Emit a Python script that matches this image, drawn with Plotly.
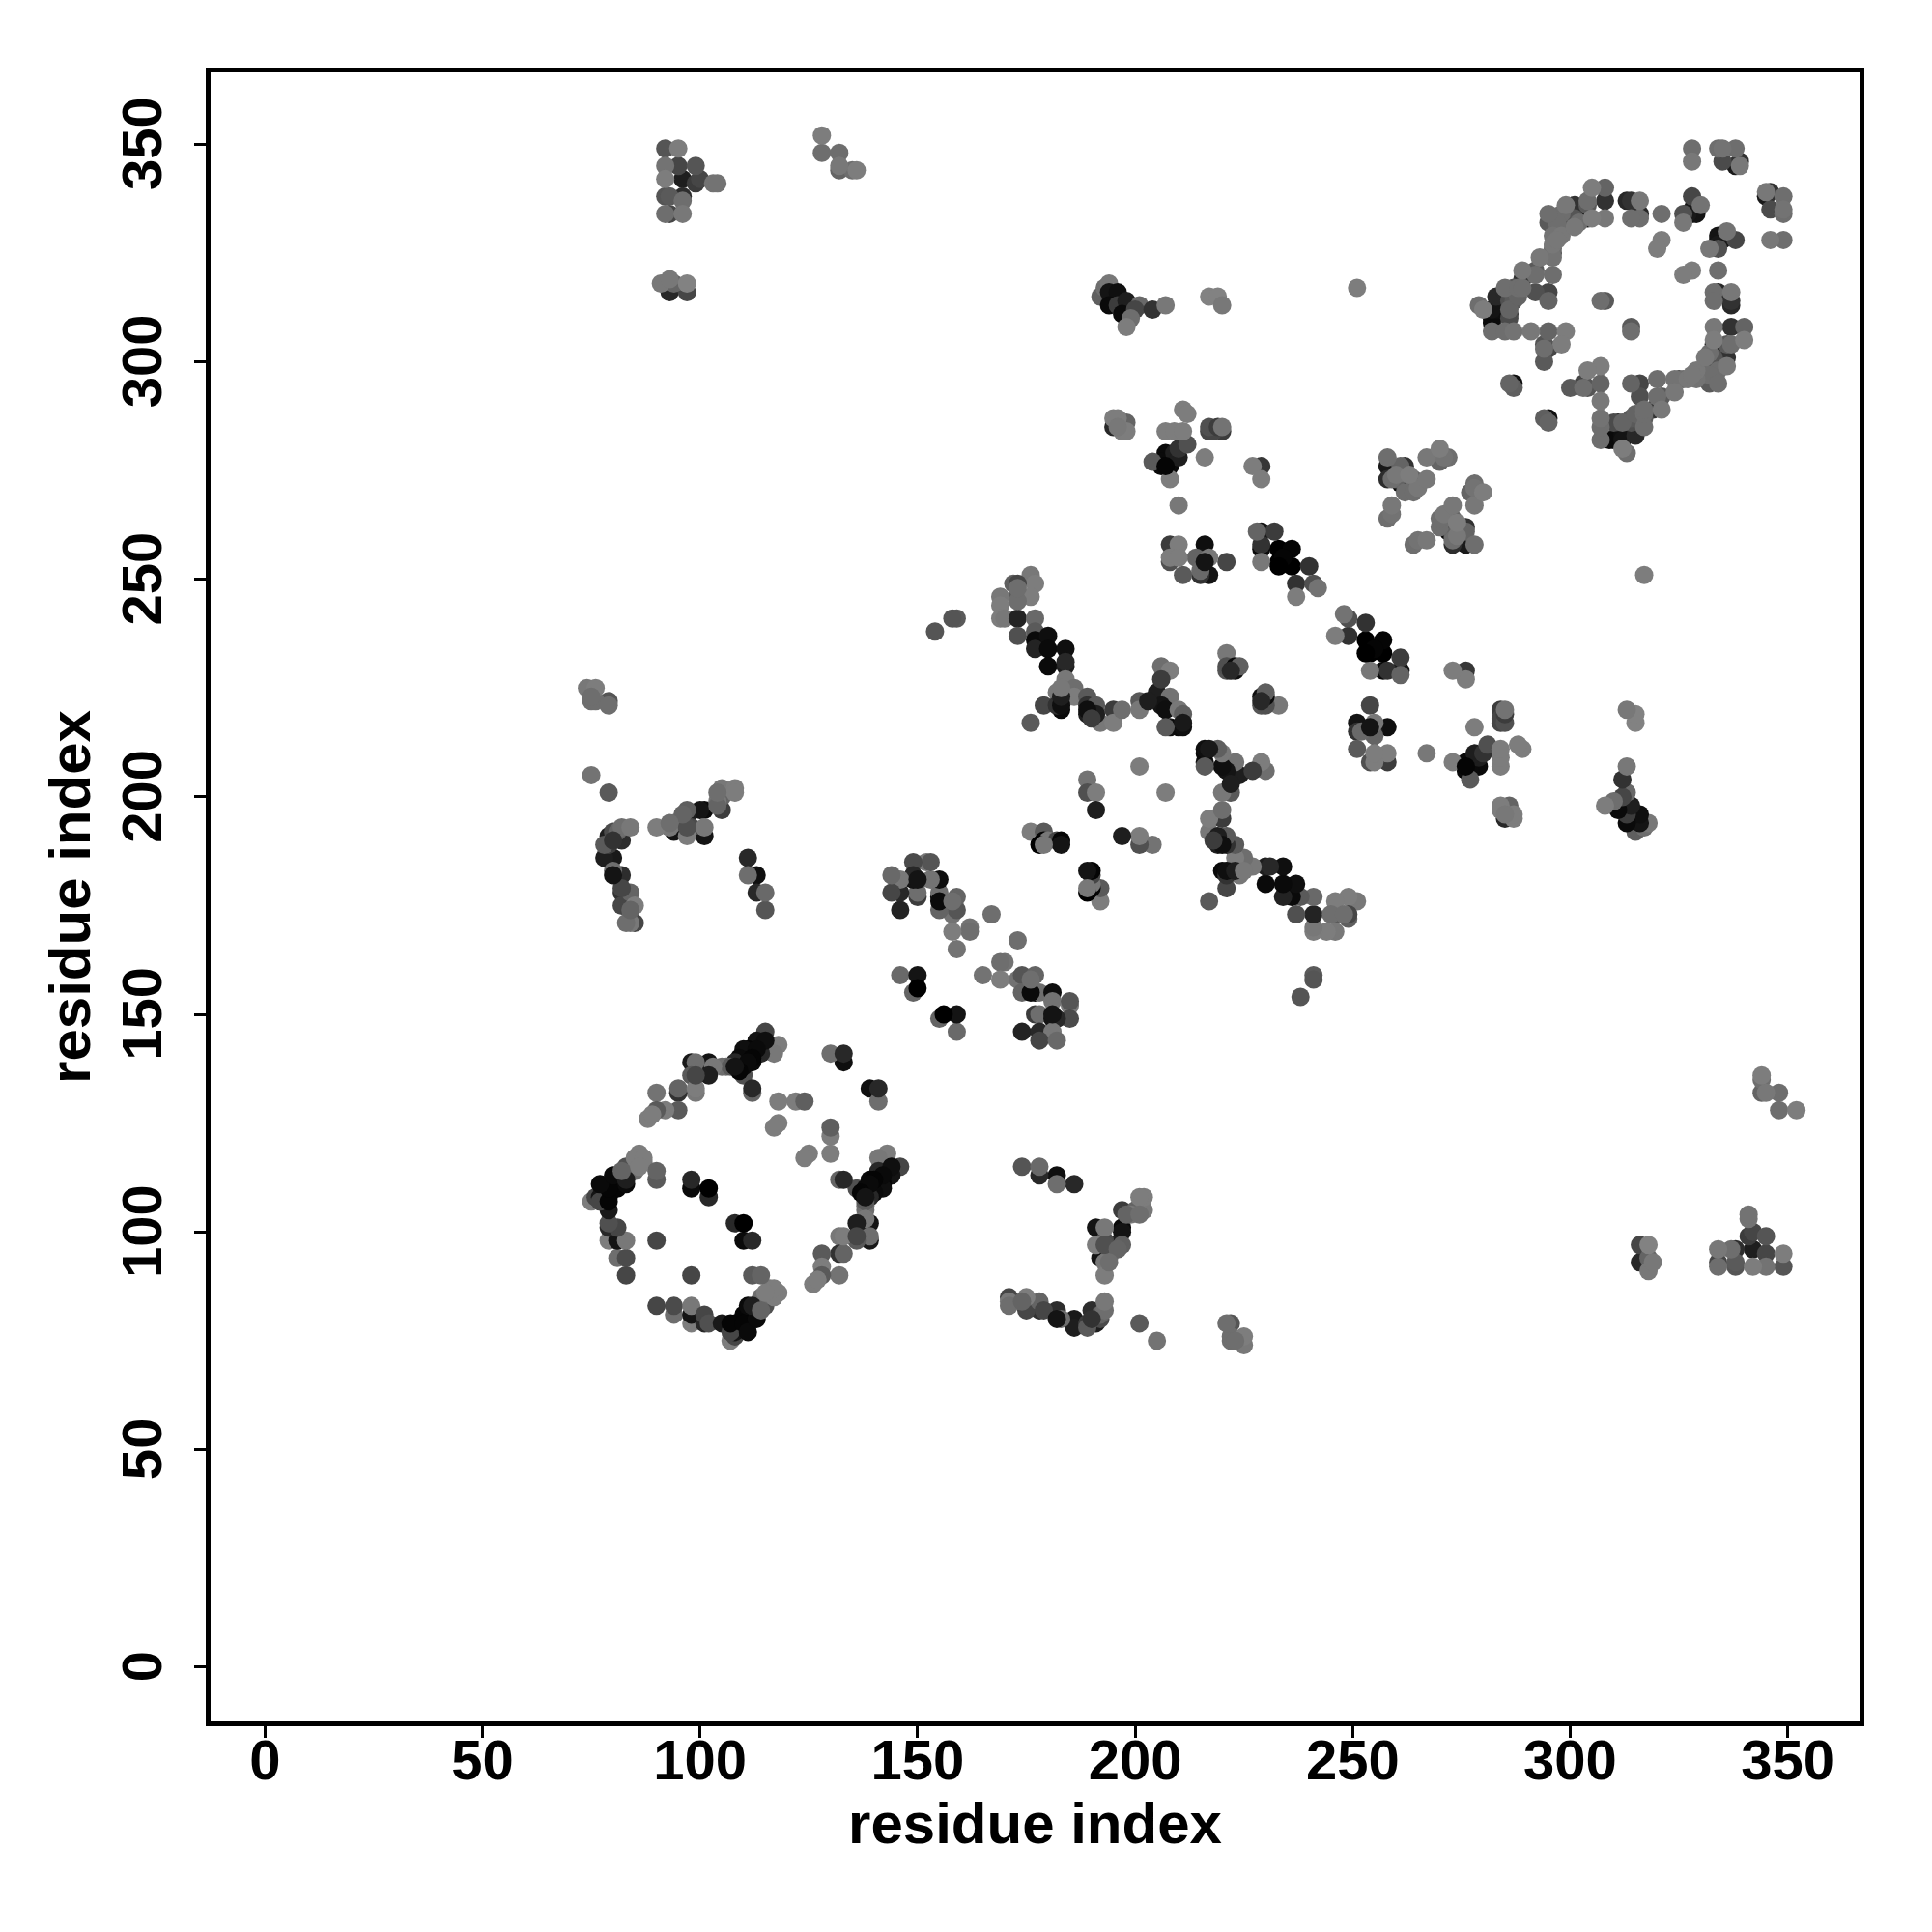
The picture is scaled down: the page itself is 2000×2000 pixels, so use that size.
import plotly.graph_objects as go

# contacts: (residue i, residue j, grey level); the map is symmetric, so each pair is drawn on both sides
top_left = [(92,349,85),(95,349,125),(92,345,115),(95,345,70),(99,345,85),(92,342,125),(96,342,30),(99,341,60),(100,342,70),
 (103,341,115),(104,341,115),(92,338,85),(93,338,90),(96,337,110),(96,338,45),(92,334,110),(93,334,70),(96,334,120),
 (128,352,125),(128,348,110),(132,348,110),(132,344,100),(132,345,120),(135,344,110),(136,344,125),
 (93,316,40),(97,316,70),(91,318,120),(93,319,120),(93,316,120),(94,318,100),(97,318,130)]
b_cluster = [(192,315,95),(193,317,110),(194,318,120),(194,316,20),(196,316,15),(194,313,10),(196,313,60),(198,314,30),(197,311,10),
 (201,313,105),(200,312,70),(199,310,110),(198,308,125),(204,312,50),(207,313,120),(217,315,130),(219,315,130),(220,313,120),(251,317,125)]
d_cluster = [(211,289,125),(212,288,125),(195,285,40),(195,287,125),(196,287,125),(198,286,100),(197,284,125),(198,284,125),(207,284,125),(209,284,125),(211,284,125),
 (212,281,80),(210,280,50),(209,279,30),(207,279,10),(210,278,30),(204,277,90),(206,277,10),(208,276,10),(206,276,10),(208,273,125),(216,278,125),
 (217,284,70),(218,284,70),(220,284,60),(220,284,125),(227,276,125),(229,273,125),(229,276,55),(210,267,120),
 (208,258,60),(210,258,125),(208,254,80),(208,255,125),(210,255,125),(211,251,90),(216,258,15),(214,255,100),(215,255,20),(217,255,120),(221,254,70),(215,251,50),(217,251,20)]
e_cluster = [(228,261,100),(229,261,20),(232,261,60),(229,258,50),(229,257,10),(229,254,120),(233,257,0),(236,257,5),(233,254,0),(236,253,0),(234,255,5),
 (240,253,50),(237,249,50),(241,249,80),(242,248,115),
 (258,278,120),(258,276,25),(258,273,45),(259,273,110),(261,276,100),(262,276,55),(261,272,10),(267,278,125),(270,280,125),(272,278,110),(271,278,115),(270,277,115),
 (267,273,125),(265,271,120),(264,273,100),(263,274,125),(262,270,110),(264,270,110),(259,267,120),(258,264,115),(259,265,115),(264,258,110),(265,259,125),(267,259,120),
 (273,267,120),(278,272,110),(277,270,100),(280,270,125),(278,267,120),(270,264,110),(270,262,110),(273,264,100),(274,263,125),(276,262,50),(272,261,10),(273,260,100),(274,260,120),
 (273,258,60),(276,258,30),(278,258,110)]
diag_band = [(248,242,125),(249,241,80),(246,237,125),(249,237,60),(253,240,70),(253,236,0),(257,236,15),(253,233,0),(257,233,5),(261,232,60),(254,229,100),(257,229,40),(261,228,80),(261,229,20),
 (273,229,125),(276,227,125),(276,229,55),(254,221,75),(251,217,15),(252,215,105),(254,216,20),(255,217,120),(258,216,10),(255,214,70),(251,211,85),(255,210,125),(258,208,70),(258,210,120),(254,208,120),(255,208,125),
 (267,210,110),(273,208,120),(278,216,125),(285,217,80),(285,219,60),(285,220,115),(281,212,75),(284,211,120),(288,212,125),(289,211,125),(280,210,30),(278,210,10),(276,207,5),(279,207,5),(277,204,95),(277,206,10),(284,207,110),
 (285,195,40),(284,198,125),(286,198,95),(285,196,120),(287,195,125),
 (221,233,120),(221,229,85),(221,230,80),(223,229,15),(223,230,10),(224,230,95),(229,221,110),(229,222,40),(230,221,70),(230,224,90),(233,221,125)]
g_cluster = [(176,251,120),(177,249,125),(172,249,95),(173,249,70),(169,246,120),(173,246,90),(176,246,125),(169,244,125),(169,241,125),(170,241,120),(173,241,35),(177,241,105),(173,237,80),(177,238,90),(177,236,10),(177,234,35),
 (180,237,15),(180,234,10),(184,234,15),(180,230,10),(184,230,30),(184,231,40),(184,227,120),(186,225,110),(182,224,120),(186,223,125),(183,220,10),(183,222,110),(179,221,70),(182,221,50),(176,217,90),
 (189,223,90),(189,221,50),(189,219,30),(191,221,90),(192,217,120),(195,220,60),(195,217,125),(197,220,110),(201,222,90),(201,220,120),(205,224,30),(206,230,110),(208,229,125),(206,227,60),(208,223,115),(206,221,20),
 (207,220,15),(210,220,120),(211,219,95),(208,216,15),(210,216,10),(211,216,15),(154,238,85),(159,241,90)]
mid_cluster = [(216,210,20),(217,211,25),(219,211,120),(220,210,115),(216,207,90),(223,208,120),(220,207,10),(221,206,15),(224,205,10),(227,206,50),(229,208,125),(230,206,100),(222,203,30),(220,201,125),(222,201,80),
 (220,197,125),(220,195,50),(217,195,120),(217,192,120),(219,191,30),(220,189,15),(223,189,80),(221,191,70),(218,190,60),(225,186,115),(223,186,125),(227,184,120),(221,183,15),(223,183,30),(225,183,120),(221,179,60),(217,176,90),
 (230,184,45),(234,184,10),(230,180,5),(234,180,10),(237,180,20),(234,177,30),(236,177,20),(238,177,80),(241,177,100),(237,173,80),(241,173,30),(246,176,125),(249,177,125),(251,176,125),(245,173,110),(248,173,110),(249,173,60),
 (241,169,115),(244,169,125),(246,169,120),(241,158,85),(238,154,85),
 (201,207,125),(207,201,115),(189,204,115),(189,201,80),(191,201,125),(191,197,30),(176,192,125),(179,192,90),(179,190,5),(180,190,120),(182,190,70),(183,190,5),(183,189,20),(197,191,30),(201,191,120),(201,189,85),(204,189,120),
 (189,183,10),(190,183,5),(190,182,30),(189,178,0),(189,179,120),(192,179,85),(192,176,125)]
low_diag = [(167,173,110),(162,170,115),(162,169,110),(173,167,115),(170,162,115),(169,162,115),(165,159,115),(169,158,125),(173,158,115),(174,159,85),(177,159,100),(174,155,100),(177,155,10),(178,155,110),(181,155,15),
 (181,153,115),(185,152,120),(185,153,85),(185,149,75),(177,150,60),(178,150,110),(181,149,20),(182,149,40),(174,146,35),(178,146,40),(181,146,120),(178,144,70),(182,144,105),
 (149,185,85),(152,185,110),(153,185,75),(144,182,110),(146,181,115),(149,181,50),(150,181,20),(155,181,15),(144,178,85),(146,178,40),(150,177,70),(150,178,100),(146,174,50),(155,176,10),(155,178,110),(155,174,110),
 (159,177,90),(158,176,110),(159,174,80),(158,173,110),(158,169,125),(159,165,120),(146,159,105),(150,159,20),(149,155,100),(150,156,0),(155,149,100),(156,150,5),(159,150,15),(159,146,110)]
f_cluster = [(74,225,120),(76,225,125),(75,222,110),(76,222,110),(79,221,110),(79,222,85),(75,205,115),(79,201,90),(84,193,120),(82,193,110),(81,192,100),(80,192,75),(79,191,30),(82,190,45),(78,189,90),(79,189,60),(78,186,30),(80,186,25),
 (80,183,110),(82,182,45),(82,178,50),(84,178,100),(82,175,70),(85,175,125),(84,171,120),(85,171,70),(90,193,125),(93,193,120),(94,192,20),(94,194,115),(97,195,30),(97,197,95),(98,193,75),(97,191,125),(100,197,20),(101,197,10),
 (101,191,20),(101,193,120),(105,197,60),(104,199,120),(105,200,100),(105,202,120),(108,202,125),(111,186,40),(111,182,110),(113,182,15),(113,178,40),(115,178,105),(115,174,85)]
ring_low = [(115,146,70),(113,144,20),(118,143,125),(117,141,120),(111,142,5),(114,141,40),(110,142,15),(109,140,10),(112,139,10),(110,136,80),(110,138,10),(108,139,40),(112,132,100),(112,133,40),
 (105,138,110),(106,138,110),(107,138,90),(102,139,20),(103,138,120),(102,136,30),(98,139,25),(99,139,110),(98,136,90),(99,132,120),(95,132,50),(95,133,100),(90,132,115),(95,128,90),(92,128,125),(90,128,90),(88,126,125),(89,127,125),
 (118,130,125),(122,130,125),(124,130,95),(118,125,125),(117,124,125),(133,139,15),(130,141,110),(133,141,40),(141,130,100),(139,133,15),(141,133,40),(130,122,125),(130,124,85),(130,118,125),(124,117,125),(125,118,125),
 (141,117,115),(143,118,125),(146,115,70),(144,115,15),(142,113,10),(140,112,5),(139,111,10),(137,109,5),(140,109,10),(138,106,100),(138,108,20),(132,112,100),(133,112,40),(136,110,85),(139,102,25),(136,102,40),
 (139,98,20),(132,99,125),(133,99,125),(136,99,70),(132,95,40),(133,95,110),(128,95,85),(128,92,120),(128,90,85),(132,90,120),(126,88,120),
 (90,83,70),(94,81,110),(94,83,75),(98,79,125),(98,81,20),(98,83,120),(101,79,40),(101,81,70),(102,79,80),(105,79,25),(107,75,125),(108,76,70),(108,77,20),(108,79,5),(111,79,10),(110,81,5),(113,81,5),(111,83,10),(115,83,80),(114,85,110),
 (116,87,120),(117,86,125),(118,86,125),(112,90,90),(114,90,100),(90,98,70),(98,90,70),(83,90,70),(81,94,110),(83,94,70),(79,98,115),(81,98,30),(83,98,125),(79,102,90),(81,101,60),(79,105,20),
 (75,107,120),(77,107,70),(79,107,5),(79,110,5),(77,111,10),(80,113,10),(81,110,10),(83,112,30),(83,115,80),(82,114,100),(85,117,125),(86,118,125),(87,117,125),(86,115,125),(90,112,100),(90,114,100),
 (98,110,10),(98,112,40),(102,108,40),(102,110,0),(108,102,100),(110,102,5),(110,98,5),(112,98,25)]
low_center = [(174,115,90),(178,113,40),(178,115,125),(182,111,110),(182,113,20),(186,111,40),(201,108,125),(202,108,125),(202,105,125),(197,105,70),(198,104,100),(201,104,110),(191,101,30),(193,101,110),(197,100,5),(197,101,15),
 (191,97,110),(193,97,80),(197,97,80),(196,96,100),(193,93,20),(194,93,110),(193,90,125),
 (171,84,70),(171,83,110),(174,84,100),(175,82,70),(175,85,125),(178,82,30),(178,84,100),(179,82,70),(182,82,40),(182,80,20),(183,80,100),(186,78,30),(186,80,30),(189,78,50),(190,80,50),(190,82,40),(191,79,70),(192,81,90),(193,82,110),(193,84,125),
 (201,79,90),(205,75,115),(221,79,95),(222,79,70),(222,76,85),(223,75,110),(225,74,110),(225,76,120)]
ring_high = [(328,349,110),(328,346,125),(334,349,125),(335,349,125),(338,349,115),(335,346,75),(338,345,25),(339,345,120),(339,346,50),
 (305,340,125),(308,340,100),(308,337,50),(304,337,110),(299,336,120),(301,336,60),(314,337,50),(316,337,120),(314,333,115),(316,333,110),(316,334,40),(304,333,20),(305,333,125),(308,333,125),(321,334,110),
 (328,338,70),(326,334,100),(326,332,125),(327,334,25),(328,335,20),(330,336,115),(295,332,90),(295,334,125),(298,333,85),(301,333,85),(302,332,110),(297,330,100),(296,329,115),(298,329,120),(296,327,120),(296,325,70),(293,324,125),(296,324,125),
 (292,320,110),(296,320,110),(289,319,50),(289,321,120),(292,316,80),(295,316,70),(295,314,100),(285,317,110),(287,317,90),(288,317,110),(283,315,40),(287,314,90),(282,312,20),(286,312,100),(280,312,125),(282,310,10),(286,310,75),(282,309,20),
 (282,307,110),(285,307,110),(287,307,115),(291,307,120),(295,307,100),(299,307,125),(298,304,125),(294,303,110),(295,303,70),(294,300,100),(286,295,100),(287,295,20),(294,287,95),(295,287,15),
 (307,314,110),(308,314,95),(314,307,110),(314,308,90),(321,328,125),(320,326,125),(328,321,125),(326,320,125),(334,321,110),(332,326,120),(336,330,115),(338,328,80),(334,326,80),(334,329,20),(334,328,15),
 (346,328,120),(349,328,120),(345,338,110),(346,339,50),(349,338,110),(346,335,80),(349,334,110),(349,335,115),(333,316,120),(334,316,45),(337,316,125),(333,314,110),(337,313,40),
 (333,308,120),(337,308,60),(340,308,100),(333,305,125),(340,305,125),(336,304,90),(333,303,20),(336,301,50),(331,301,120),(333,301,90),(334,298,110),(332,297,110),(334,295,110),(331,297,100),(328,297,120),(326,296,110),(324,296,115),(324,293,120),
 (320,296,110),(321,292,90),(319,289,50),(321,289,120),(314,295,100),(316,295,70),(316,292,80),(317,289,110),(317,287,100),(315,288,100),(314,286,80),(316,285,40),(315,284,30),(312,284,15),(311,286,30),(312,283,15),(311,283,5),(309,282,10),(313,279,110),
 (307,299,125),(304,298,125),(307,295,115),(304,294,85),(300,294,90),(307,291,125),(307,287,115),(307,285,110),(307,282,115)]

clusters = [top_left, b_cluster, d_cluster, e_cluster, diag_band, g_cluster, mid_cluster, low_diag, f_cluster, ring_low, low_center, ring_high]
light_on_top = [top_left, e_cluster, ring_high, f_cluster, d_cluster]
tick_vals = [0, 50, 100, 150, 200, 250, 300, 350]
axis_title = "residue index"
axis_range = [-12.5, 366.5]

seen, xs, ys, cols = set(), [], [], []
for cluster in clusters:
    ordered = sorted(cluster, key=lambda t: t[2]) if any(cluster is c for c in light_on_top) else cluster
    for a, b, g in ordered:
        for p, q in ((a, b), (b, a)):
            if (p, q) in seen:
                continue
            seen.add((p, q))
            xs.append(p); ys.append(q); cols.append(f"rgb({g},{g},{g})")

fig = go.Figure(go.Scatter(x=xs, y=ys, mode="markers", marker=dict(size=19, color=cols, line=dict(width=0))))

font = "Liberation Sans"
tickfont = dict(family=font, size=58, color="black", weight="bold")
titlefont = dict(family=font, size=60, color="black", weight="bold")
axis_common = dict(range=axis_range, tickvals=tick_vals, showgrid=False, zeroline=False, showline=True, mirror=True,
                   linecolor="black", linewidth=5, ticks="outside", ticklen=12, tickwidth=3, tickcolor="black",
                   tickfont=tickfont)
fig.update_layout(width=2000, height=2000, margin=dict(l=210, r=83, t=67, b=226), paper_bgcolor="white", plot_bgcolor="white",
                  showlegend=False,
                  xaxis=dict(**axis_common, ticklabelstandoff=-27, title=dict(text=axis_title, standoff=11, font=titlefont)),
                  yaxis=dict(**axis_common, tickangle=-90, ticklabelstandoff=11,
                             ticktext=[f"{v}\u00a0" for v in tick_vals],
                             title=dict(text=axis_title, standoff=2, font=titlefont)))
fig.write_html("out.html")
